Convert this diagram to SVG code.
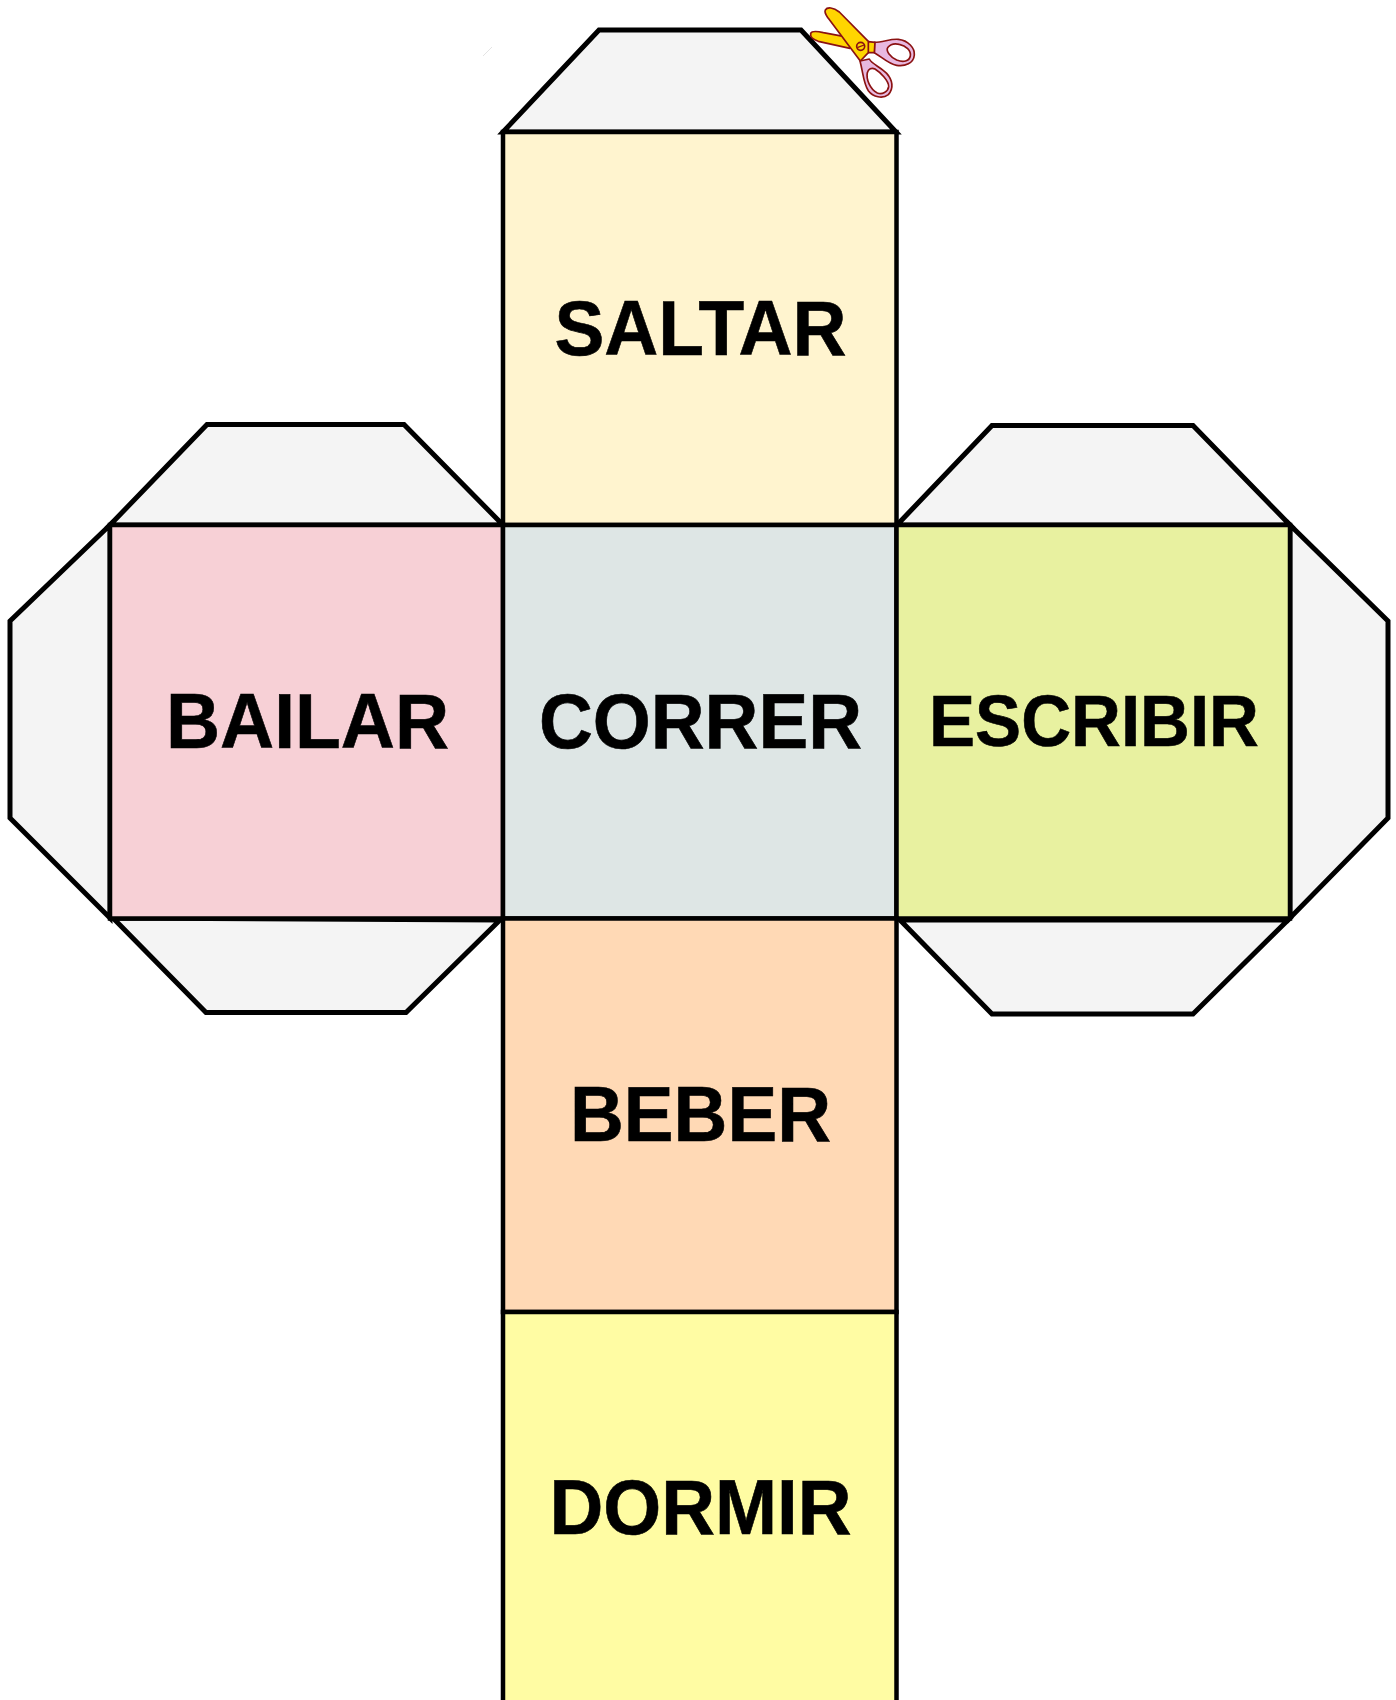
<svg xmlns="http://www.w3.org/2000/svg" width="1396" height="1700" viewBox="0 0 1396 1700">
<style>
.tab{fill:#f4f4f4;stroke:#000;stroke-width:5;stroke-linejoin:miter}
.face{stroke:#000;stroke-width:4.5}
.lbl{font-family:"Liberation Sans",Arial,sans-serif;font-weight:700;font-size:77.5px;fill:#000;text-anchor:middle;stroke:#000;stroke-width:0.6}
.sb{stroke:#8b1212;stroke-width:5;stroke-linejoin:round}
</style>
<rect width="1396" height="1700" fill="#ffffff"/>
<line x1="483" y1="56" x2="492" y2="47" stroke="#e4e4e4" stroke-width="1"/>
<g id="tabs">
<polygon id="tab-top" class="tab" points="503,132 599,30 801,30 896,132"/>
<polygon id="tab-left-top" class="tab" points="110,525 207,424.5 404,424.5 503,525"/>
<polygon id="tab-left" class="tab" points="110,525 10,621 10,818 110,918"/>
<polygon id="tab-left-bottom" class="tab" points="113,918 206,1012.5 406,1012.5 500,920"/>
<polygon id="tab-right-top" class="tab" points="897,525 992,425.5 1193,425.5 1290,525"/>
<polygon id="tab-right" class="tab" points="1290,525 1388,621 1388,818 1290,918"/>
<polygon id="tab-right-bottom" class="tab" points="900,920 992,1014 1193,1014 1288,920"/>
</g>
<g id="saltar"><rect class="face" x="503" y="132" width="393.5" height="393" fill="#fff4cf"/><text class="lbl" x="700.5" y="355" textLength="292" lengthAdjust="spacingAndGlyphs">SALTAR</text></g>
<g id="bailar"><rect class="face" x="110" y="525" width="393" height="393.5" fill="#f7d0d6"/><text class="lbl" x="307.5" y="748" textLength="283" lengthAdjust="spacingAndGlyphs">BAILAR</text></g>
<g id="correr"><rect class="face" x="503" y="525" width="393.5" height="393.5" fill="#dee6e5"/><text class="lbl" x="700.5" y="748" textLength="323" lengthAdjust="spacingAndGlyphs">CORRER</text></g>
<g id="escribir"><rect class="face" x="896.5" y="525" width="393.5" height="393.5" fill="#e8f1a0"/><text class="lbl" x="1094" y="746" style="font-size:71.7px" textLength="330" lengthAdjust="spacingAndGlyphs">ESCRIBIR</text></g>
<g id="beber"><rect class="face" x="503" y="918.5" width="393.5" height="393.5" fill="#ffd9b5"/><text class="lbl" x="700.5" y="1141" textLength="261" lengthAdjust="spacingAndGlyphs">BEBER</text></g>
<g id="dormir"><rect class="face" x="503" y="1312" width="393.5" height="400" fill="#fffca3"/><text class="lbl" x="700.5" y="1534" textLength="302" lengthAdjust="spacingAndGlyphs">DORMIR</text></g>
<g id="scissors" transform="translate(780,0) scale(0.3333)">
<path class="sb" fill="#e8b8e0" fill-rule="evenodd" d="M283,127 C310,127 330,116 355,118 C385,121 405,145 403,165 C401,190 375,200 350,196 C325,192 305,170 283,158 Z M324,142 C316,152 330,170 350,180 C370,188 388,184 391,168 C394,152 378,137 358,133 C345,130 331,133 324,142 Z"/>
<path class="sb" fill="#e8b8e0" fill-rule="evenodd" d="M240,183 L268,177 C275,192 300,200 320,220 C338,240 342,265 325,284 C308,297 280,292 265,272 C250,250 250,220 240,183 Z M262,218 C258,238 270,268 292,279 C306,285 324,276 326,260 C327,243 300,216 285,207 C275,202 265,207 262,218 Z"/>
<path class="sb" fill="#ffd500" d="M92,100 C96,92 110,93 130,98 L210,113 L210,145 L115,124 C100,119 90,110 92,100 Z"/>
<path class="sb" fill="#ffd500" d="M265,125 L285,127 L283,158 L262,158 Z"/>
<path class="sb" fill="#ffd500" d="M136,30 C142,20 160,22 178,36 L265,124 L265,158 L241,183 L205,135 L145,55 C138,45 132,38 136,30 Z"/>
<circle class="sb" cx="242" cy="139" r="12" fill="#ffd500"/>
<line x1="232" y1="143" x2="252" y2="135" stroke="#8b1212" stroke-width="4"/>
</g>
</svg>
